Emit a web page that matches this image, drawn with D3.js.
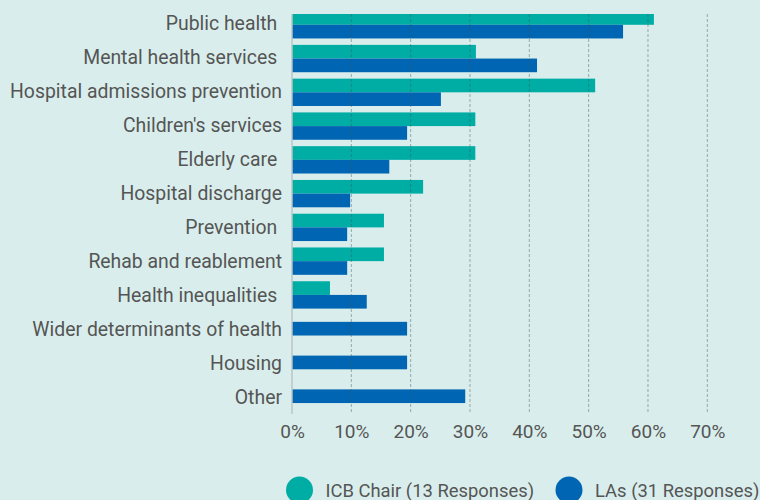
<!DOCTYPE html>
<html>
<head>
<meta charset="utf-8">
<script src="https://cdn.jsdelivr.net/npm/d3@7"></script>
<style>
  html, body { margin: 0; padding: 0; background: #d9eeec; }
  text { font-family: Roboto, "Noto Sans", sans-serif; fill: #555; }
</style>
</head>
<body>
<div id="chart"></div>
<script>
const WIDTH = 760;
const HEIGHT = 500;

// categories (trailing spaces as in the original labels)
const categories = [
    "Public health ", "Mental health services ", "Hospital admissions prevention",
    "Children's services", "Elderly care ", "Hospital discharge", "Prevention ",
    "Rehab and reablement", "Health inequalities ", "Wider determinants of health",
    "Housing", "Other"
];
const seriesNames = ["ICB Chair (13 Responses)", "LAs (31 Responses)"];
const icbValues = [61.0, 31.0, 51.1, 30.9, 30.9, 22.1, 15.5, 15.5, 6.4, 0, 0, 0];
const laValues  = [55.8, 41.3, 25.1, 19.4, 16.4, 9.8, 9.3, 9.3, 12.6, 19.4, 19.4, 29.2];
const xTicks = [0, 10, 20, 30, 40, 50, 60, 70];
const colors = ["#00ada5", "#0066b3"];

function setup(){
    let svg = d3.select("#chart")
        .append("svg")
        .attr("width", WIDTH)
        .attr("height", HEIGHT);

    let x = d3.scaleLinear().domain([0, 70]).range([292, 707.3]);
    // bars and labels sit on slightly different grids in the original
    let y = d3.scaleBand().domain(categories).range([7.9, 413.1])
        .paddingInner(0.19).paddingOuter(0.095);
    let yLabel = d3.scaleBand().domain(categories).range([6, 414]);
    let barH = y.bandwidth() / 2;

    let plotTop = 14, plotBottom = 414;

    svg.append("clipPath").attr("id", "plotClip")
        .append("rect")
        .attr("x", 0).attr("y", plotTop)
        .attr("width", WIDTH).attr("height", plotBottom - plotTop);

    let rows = categories.map((c, i) => ({cat: c, vals: [icbValues[i], laValues[i]]}));

    let bars = svg.append("g").attr("clip-path", "url(#plotClip)");
    bars.selectAll(".row")
        .data(rows)
        .enter()
        .append("g")
        .attr("transform", d => `translate(0,${y(d.cat)})`)
        .selectAll("rect")
        .data(d => {
            let shown = d.vals.map((v, k) => ({v: v, k: k})).filter(e => e.v > 0);
            let off = (y.bandwidth() - shown.length * barH) / 2;
            return shown.map((e, j) => ({v: e.v, k: e.k, y: off + j * barH}));
        })
        .enter()
        .append("rect")
        .attr("x", x(0))
        .attr("y", d => d.y)
        .attr("width", d => x(d.v) - x(0))
        .attr("height", barH)
        .style("fill", d => colors[d.k]);

    // dashed grid lines, drawn over the bars
    svg.append("g")
        .selectAll("line")
        .data(xTicks.slice(1))
        .enter()
        .append("line")
        .attr("x1", d => x(d)).attr("x2", d => x(d))
        .attr("y1", plotTop).attr("y2", plotBottom)
        .style("stroke", "#3d5558")
        .style("stroke-opacity", 0.45)
        .style("stroke-width", 1)
        .style("stroke-dasharray", "3,2");

    // zero axis line
    svg.append("line")
        .attr("x1", x(0)).attr("x2", x(0))
        .attr("y1", plotTop).attr("y2", plotBottom)
        .style("stroke", "#b9c4c4")
        .style("stroke-width", 1.5);

    // x tick labels
    let xAxis = d3.axisBottom(x).tickValues(xTicks).tickFormat(d => d + "%").tickSize(0).tickPadding(0);
    let xg = svg.append("g")
        .attr("transform", "translate(0,438)")
        .call(xAxis);
    xg.select(".domain").remove();
    xg.selectAll("text")
        .attr("y", 0)
        .attr("dy", 0)
        .style("font-size", "19px")
        .style("fill", "#555");

    // category labels
    svg.append("g")
        .selectAll("text")
        .data(categories)
        .enter()
        .append("text")
        .attr("x", 282)
        .attr("y", d => yLabel(d) + yLabel.bandwidth() / 2 + 7)
        .attr("text-anchor", "end")
        .style("font-size", "19.4px")
        .style("white-space", "pre")
        .text(d => d);

    // legend
    let legendX = [299.5, 569];
    let legend = svg.append("g")
        .selectAll("g")
        .data(seriesNames)
        .enter()
        .append("g")
        .attr("transform", (d, i) => `translate(${legendX[i]},490)`);
    legend.append("circle")
        .attr("r", 13.5)
        .style("fill", (d, i) => colors[i]);
    legend.append("text")
        .attr("x", 26)
        .attr("y", 7)
        .style("font-size", "18.4px")
        .text(d => d);
}

window.addEventListener("load", setup);
</script>
</body>
</html>
